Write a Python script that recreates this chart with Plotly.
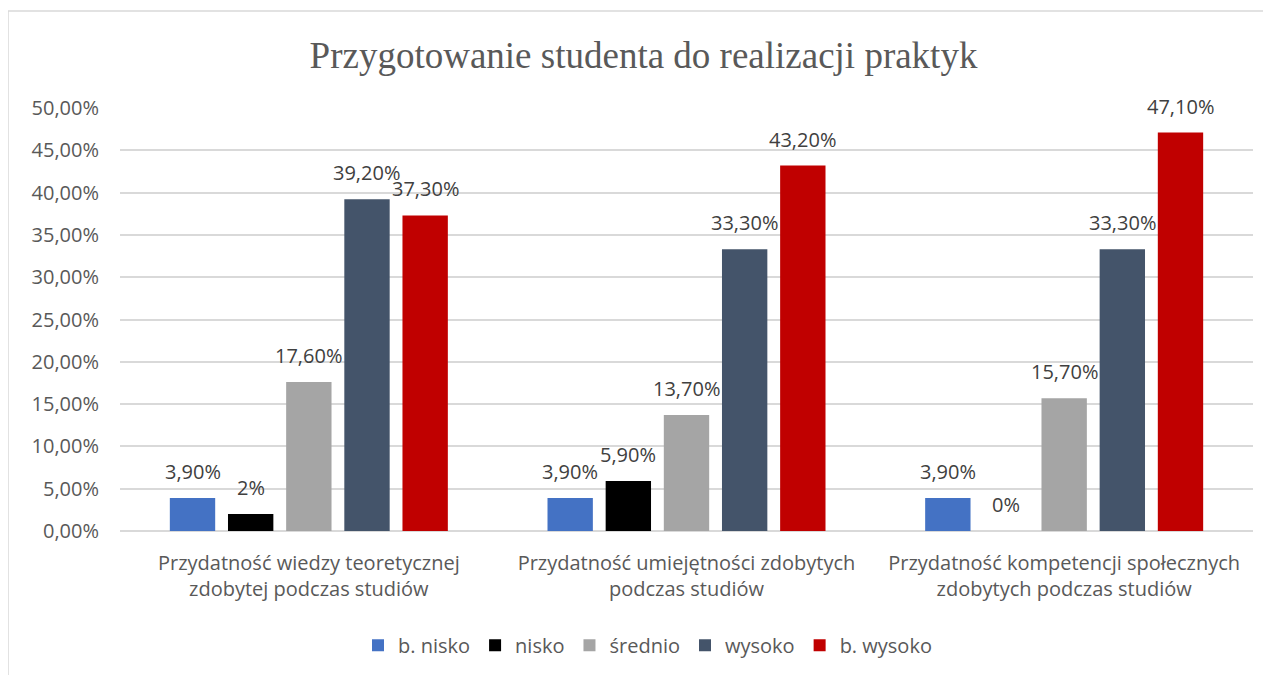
import plotly.graph_objects as go

# chart data
categories = [
    "Przydatność wiedzy teoretycznej<br>zdobytej podczas studiów",
    "Przydatność umiejętności zdobytych<br>podczas studiów",
    "Przydatność kompetencji społecznych<br>zdobytych podczas studiów",
]
series_names = ["b. nisko", "nisko", "średnio", "wysoko", "b. wysoko"]
b_nisko = [0.039, 0.039, 0.039]
nisko = [0.02, 0.059, 0.0]
srednio = [0.176, 0.137, 0.157]
wysoko = [0.392, 0.333, 0.333]
b_wysoko = [0.373, 0.432, 0.471]

b_nisko_labels = ["3,90%", "3,90%", "3,90%"]
nisko_labels = ["2%", "5,90%", "0%"]
srednio_labels = ["17,60%", "13,70%", "15,70%"]
wysoko_labels = ["39,20%", "33,30%", "33,30%"]
b_wysoko_labels = ["37,30%", "43,20%", "47,10%"]

y_ticks = [0, 0.05, 0.10, 0.15, 0.20, 0.25, 0.30, 0.35, 0.40, 0.45, 0.50]

colors = ["#4472C4", "#000000", "#A5A5A5", "#44546A", "#C00000"]
values = [b_nisko, nisko, srednio, wysoko, b_wysoko]
labels = [b_nisko_labels, nisko_labels, srednio_labels, wysoko_labels, b_wysoko_labels]

W, H = 1271, 675
L, R, T, B = 112, 26, 100, 152
BARGAP = 0.23
plot_w = W - L - R
plot_h = H - T - B
slot = plot_w / len(categories) * (1 - BARGAP) / len(series_names)

FONT = "Open Sans, sans-serif"

fig = go.Figure()
annotations = []
for i, (name, vals, txt, col) in enumerate(zip(series_names, values, labels, colors)):
    fig.add_trace(go.Bar(
        x=categories, y=vals, name=name,
        marker=dict(color=col, line=dict(width=0)),
    ))
    # data labels sit a bit higher than plotly's own outside text
    for c, v, t in zip(categories, vals, txt):
        annotations.append(dict(
            x=c, y=v, xref="x", yref="y", text=t, showarrow=False,
            xanchor="center", yanchor="bottom",
            xshift=(i - (len(series_names) - 1) / 2) * slot, yshift=11,
            font=dict(family=FONT, size=20, color="#404040"),
        ))

fig.update_layout(
    width=W, height=H,
    paper_bgcolor="white", plot_bgcolor="white",
    separators=",.",
    margin=dict(l=L, r=R, t=T, b=B),
    bargap=BARGAP, bargroupgap=0.22,
    title=dict(
        text="Przygotowanie studenta do realizacji praktyk",
        font=dict(family="Liberation Serif, serif", size=37, color="#595959"),
        x=0.5, xanchor="center", y=1 - 47 / H, yanchor="middle",
    ),
    # legend is centred on the whole chart, not the plot area
    legend=dict(
        orientation="h", x=0.5 - 39 / plot_w, xanchor="center", y=-0.27, yanchor="middle",
        font=dict(family=FONT, size=20, color="#595959"),
        itemwidth=30,
    ),
    xaxis=dict(
        tickfont=dict(family=FONT, size=20, color="#595959"),
        showline=False, ticks="", showgrid=False, ticklabelstandoff=18,
    ),
    yaxis=dict(
        range=[0, 0.5], tickvals=y_ticks, tickformat=".2%",
        tickfont=dict(family=FONT, size=20, color="#595959"),
        gridcolor="#D9D9D9", gridwidth=1.5, zeroline=True, zerolinecolor="#D9D9D9",
        zerolinewidth=1.5, showline=False, ticks="", ticklabelstandoff=20,
    ),
    annotations=annotations,
    shapes=[dict(
        type="rect", xref="paper", yref="paper",
        x0=-L / plot_w, x1=1.2, y0=-0.5, y1=(plot_h + T - 3) / plot_h,
        line=dict(color="#D9D9D9", width=1.5), fillcolor="rgba(0,0,0,0)",
    )],
)

fig.write_html("out.html")
